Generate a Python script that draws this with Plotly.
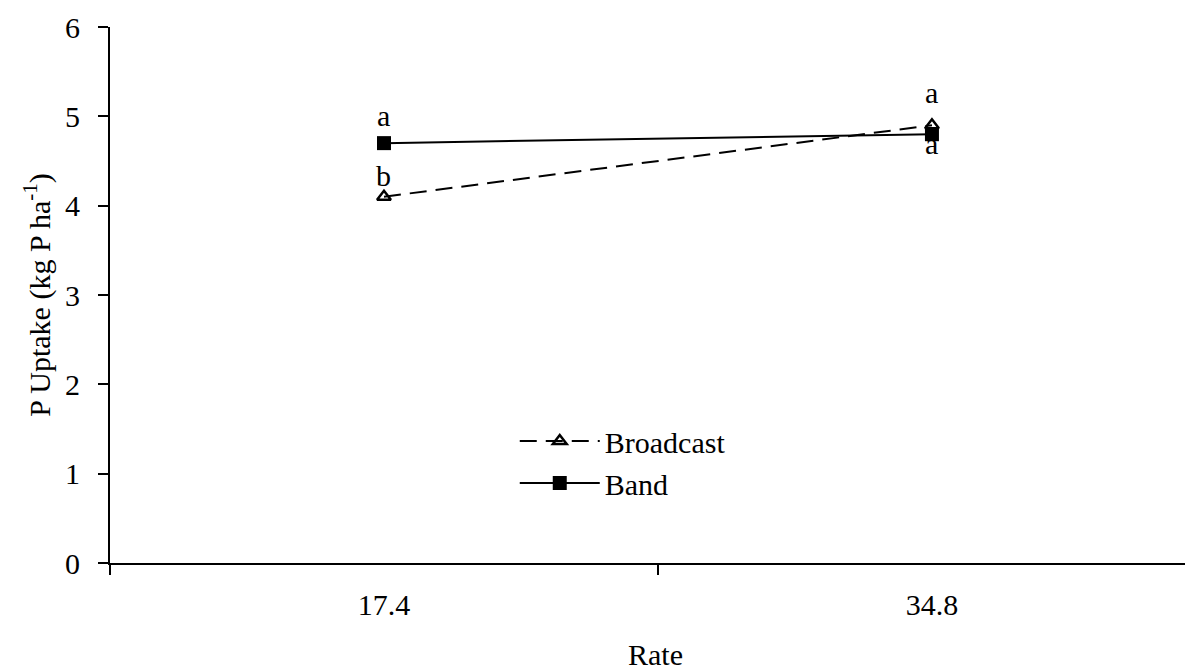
import plotly.graph_objects as go

categories = ["17.4", "34.8"]
broadcast = [4.1, 4.9]
band = [4.7, 4.8]
broadcast_letters = ["b", "a"]
band_letters = ["a", "a"]
broadcast_letter_shift = [21, 33]
band_letter_shift = [28, -9]
y_ticks = [0, 1, 2, 3, 4, 5, 6]

FONT = "Liberation Serif, Times New Roman, serif"
FS = 30

fig = go.Figure()
fig.add_trace(go.Scatter(
    x=categories, y=broadcast, name="Broadcast", mode="lines+markers",
    line=dict(color="black", width=2, dash="17px,9px"),
    marker=dict(symbol="triangle-up-open", size=12, color="black", line=dict(width=2.5, color="black")),
))
fig.add_trace(go.Scatter(
    x=categories, y=band, name="Band", mode="lines+markers",
    line=dict(color="black", width=2),
    marker=dict(symbol="square", size=14, color="black"),
))

annotations = []
for i in range(len(categories)):
    annotations.append(dict(x=i, y=band[i], xref="x", yref="y", text=band_letters[i], showarrow=False,
                            yshift=band_letter_shift[i], font=dict(family=FONT, size=FS, color="black")))
    annotations.append(dict(x=i, y=broadcast[i], xref="x", yref="y", text=broadcast_letters[i], showarrow=False,
                            yshift=broadcast_letter_shift[i], font=dict(family=FONT, size=FS, color="black")))

fig.update_layout(
    width=1193, height=670,
    margin=dict(l=102, r=0, t=19, b=115),
    paper_bgcolor="white", plot_bgcolor="white",
    font=dict(family=FONT, size=FS, color="black"),
    showlegend=True,
    legend=dict(x=0.371, y=0.276, xanchor="left", yanchor="top",
                bgcolor="rgba(0,0,0,0)", font=dict(family=FONT, size=FS, color="black"),
                tracegroupgap=0, itemwidth=80),
    annotations=annotations,
    xaxis=dict(type="category", range=[-0.5, 1.491], showline=True, linecolor="black", linewidth=2,
               ticks="outside", tickson="boundaries", ticklen=10, tickwidth=2, tickcolor="black",
               showgrid=False, zeroline=False, automargin=False, ticklabelstandoff=14,
               title=dict(text="Rate", standoff=24, font=dict(family=FONT, size=FS)),
               tickfont=dict(family=FONT, size=FS)),
    yaxis=dict(range=[0, 6], tickvals=y_ticks, showline=True, linecolor="black", linewidth=2,
               ticks="outside", ticklen=10, tickwidth=2, tickcolor="black",
               showgrid=False, zeroline=False, automargin=False, ticklabelstandoff=12,
               title=dict(text="P Uptake (kg P ha<sup>-1</sup>)", standoff=6, font=dict(family=FONT, size=FS)),
               tickfont=dict(family=FONT, size=FS)),
)

fig.write_html("out.html")
